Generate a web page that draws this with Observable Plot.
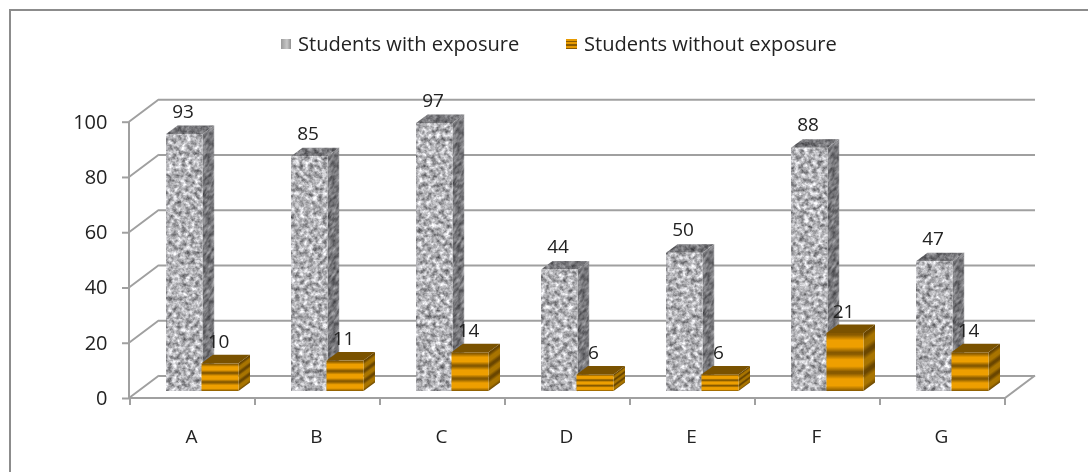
<!DOCTYPE html>
<html>
<head>
<meta charset="utf-8">
<script src="https://cdn.jsdelivr.net/npm/d3@7"></script>
<script src="https://cdn.jsdelivr.net/npm/@observablehq/plot@0.6"></script>
<style>
html,body{margin:0;padding:0;background:#fff;}
#page{position:relative;width:1088px;height:472px;overflow:hidden;font-family:"Open Sans",sans-serif;color:#222;}
#frame{position:absolute;left:9px;top:9px;width:1200px;height:600px;border:2px solid #8c8c8c;box-sizing:border-box;filter:blur(.3px);}
#legend{position:relative;height:65px;filter:blur(.35px);}
.sw{position:absolute;top:39px;width:10px;height:10px;}
.lb{position:absolute;top:30px;font-size:20.1px;line-height:28px;white-space:nowrap;}
#chart{position:relative;filter:blur(.35px);}
#chart svg{display:block;}
</style>
</head>
<body>
<div id="page">
  <div id="frame"></div>
  <div id="legend">
    <div class="sw" style="left:281px;background:linear-gradient(90deg,#9a9a9a,#c8c8c8 60%,#8f8f8f)"></div>
    <div class="lb" id="l0" style="left:298px"></div>
    <div class="sw" style="left:566px;width:11px;background:repeating-linear-gradient(180deg,#e79a00 0 2px,#8a5a00 2px 3.5px)"></div>
    <div class="lb" id="l1" style="left:584px"></div>
  </div>
  <div id="chart"></div>
</div>
<script>
const categories = ["A", "B", "C", "D", "E", "F", "G"];
const withExposure = [93, 85, 97, 44, 50, 88, 47];
const withoutExposure = [10, 11, 14, 6, 6, 21, 14];
const seriesNames = ["Students with exposure", "Students without exposure"];
const yTicks = [0, 20, 40, 60, 80, 100];

document.getElementById("l0").textContent = seriesNames[0];
document.getElementById("l1").textContent = seriesNames[1];

const rows = [];
categories.forEach((c, i) => {
  rows.push({cat: c, value: withExposure[i], series: 0});
  rows.push({cat: c, value: withoutExposure[i], series: 1});
});

// 3-D look of the original
const wall = {dx: 30, dy: -22.5};
const lift = 7;
const depth = {dx: 11.5, dy: -8.5};
const seriesOffset = [36, 71.5];
const seriesWidth = [36.5, 37];
const lineColor = "#a0a0a0";
const skew = Math.atan2(depth.dy, depth.dx) * 180 / Math.PI;

function frameRender(index, scales, values, dims, context, next) {
  const g = d3.create("svg:g");
  const left = dims.marginLeft, right = dims.width - dims.marginRight;
  const y = scales.y;
  g.append("path")
    .attr("fill", "none").attr("stroke", lineColor).attr("stroke-width", 2)
    .attr("d", [
      ...yTicks.map(t => `M${left},${y(t)}L${left + wall.dx},${y(t) + wall.dy}`),
      `M${left},${y(100)}V${y(0)}H${right}L${right + wall.dx},${y(0) + wall.dy}`,
      ...categories.map(c => `M${scales.x(c)},${y(0)}v7`),
      `M${right},${y(0)}v7`
    ].join(""));
  g.node().appendChild(next(index, scales, values, dims, context));
  return g.node();
}

function barRender(index, scales) {
  const g = d3.create("svg:g");
  for (const i of index) {
    const d = rows[i];
    const x0 = scales.x(d.cat) + seriesOffset[d.series];
    const w = seriesWidth[d.series];
    const yb = scales.y(0) - lift;
    const yt = scales.y(d.value) - lift;
    const h = yb - yt;
    const grey = d.series === 0;
    // side face
    g.append("rect")
      .attr("width", depth.dx).attr("height", h)
      .attr("transform", `translate(${x0 + w},${yt}) skewY(${skew})`)
      .attr("fill", grey ? "#777" : "url(#stripeSide)")
      .attr("filter", grey ? "url(#graniteDark)" : null);
    // top face
    g.append("path")
      .attr("d", `M${x0},${yt}l${depth.dx},${depth.dy}h${w}l${-depth.dx},${-depth.dy}z`)
      .attr("fill", grey ? "#777" : "#7a5200")
      .attr("filter", grey ? "url(#graniteDark)" : null);
    // front face
    g.append("rect")
      .attr("x", x0).attr("y", yt).attr("width", w).attr("height", h)
      .attr("fill", grey ? "#aaa" : "url(#stripeFront)")
      .attr("filter", grey ? "url(#granite)" : null);
  }
  return g.node();
}

const plot = Plot.plot({
  width: 1088,
  height: 407,
  marginLeft: 129,
  marginRight: 83,
  marginTop: 56.7,
  marginBottom: 74,
  style: {background: "transparent", overflow: "visible"},
  x: {domain: categories, padding: 0, label: null},
  y: {domain: [0, 100], label: null},
  marks: [
    Plot.ruleY(yTicks, {dx: wall.dx, dy: wall.dy, stroke: lineColor, strokeWidth: 2, render: frameRender}),
    Plot.axisY(yTicks, {tickSize: 7, tickPadding: 15, fontSize: 20, stroke: lineColor, strokeWidth: 2, fill: "#222", label: null, fontFamily: "Open Sans"}),
    Plot.axisX({tickSize: 0, tickPadding: 31, dx: -1.5, fontSize: 19, fill: "#222", label: null, fontFamily: "Open Sans"}),
    Plot.barY(rows, {x: "cat", y: "value", render: barRender}),
    Plot.text(rows.filter(d => d.series === 0), {x: "cat", y: "value", text: "value", dx: -10, dy: -30, fontSize: 19, fill: "#222", fontFamily: "Open Sans"}),
    Plot.text(rows.filter(d => d.series === 1), {x: "cat", y: "value", text: "value", dx: 25.5, dy: -29, fontSize: 19, fill: "#222", fontFamily: "Open Sans"})
  ]
});

function graniteFilter(id, gain, offset) {
  return `<filter id="${id}" x="0" y="0" width="1" height="1" color-interpolation-filters="sRGB">
    <feTurbulence type="fractalNoise" baseFrequency="0.22" numOctaves="3" seed="7" result="n"/>
    <feColorMatrix in="n" type="matrix" values="${gain} 0 0 0 ${offset} ${gain} 0 0 0 ${offset} ${gain} 0 0 0 ${offset + 0.015} 0 0 0 0 1"/>
    <feGaussianBlur stdDeviation="0.55" result="g"/>
    <feComposite in="g" in2="SourceAlpha" operator="in"/>
  </filter>`;
}
const defs = document.createElementNS("http://www.w3.org/2000/svg", "defs");
defs.innerHTML = `
  ${graniteFilter("granite", 1.0, 0.2)}
  ${graniteFilter("graniteDark", 0.65, 0.14)}
  <linearGradient id="stripeFront" x1="0" y1="0" x2="0" y2="0.3333" spreadMethod="repeat">
    <stop offset="0" stop-color="#855800"/><stop offset=".1" stop-color="#8a5c00"/>
    <stop offset=".38" stop-color="#ee9f00"/><stop offset=".72" stop-color="#ee9f00"/>
    <stop offset="1" stop-color="#855800"/>
  </linearGradient>
  <linearGradient id="stripeSide" x1="0" y1="0" x2="0" y2="0.3333" spreadMethod="repeat">
    <stop offset="0" stop-color="#6a4600"/><stop offset=".15" stop-color="#6a4600"/>
    <stop offset=".42" stop-color="#a87400"/><stop offset=".72" stop-color="#a87400"/>
    <stop offset="1" stop-color="#6a4600"/>
  </linearGradient>`;
plot.insertBefore(defs, plot.firstChild);
document.getElementById("chart").appendChild(plot);
</script>
</body>
</html>
